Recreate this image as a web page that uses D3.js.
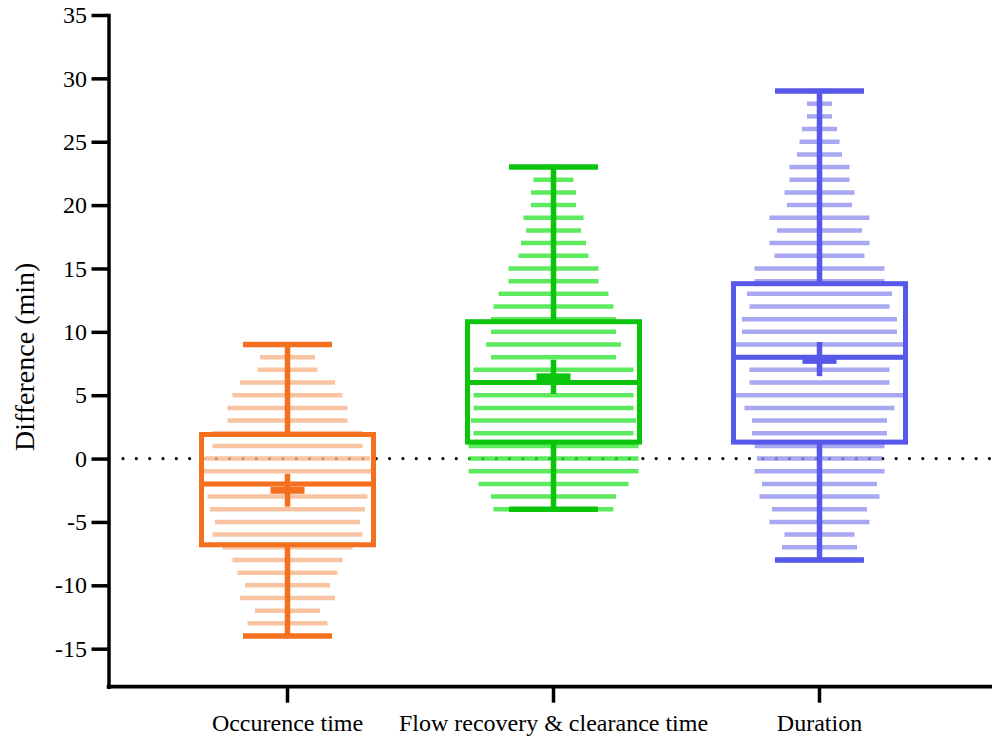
<!DOCTYPE html>
<html>
<head>
<meta charset="utf-8">
<script src="https://cdn.jsdelivr.net/npm/d3@7"></script>
<style>
  html, body { margin: 0; padding: 0; background: #fff; }
</style>
</head>
<body>
<svg id="chart" width="992" height="738"></svg>
<script>
// Groups shown along the x axis
const categories = ["Occurence time", "Flow recovery & clearance time", "Duration"];

// Frequency of each whole-minute difference, per group
const occurenceLevels = [-14, -13, -12, -11, -10, -9, -8, -7, -6, -5, -4, -3, -2, -1, 0, 1, 2, 3, 4, 5, 6, 7, 8, 9];
const occurenceCounts = [16, 16, 13, 19, 17, 20, 22, 26, 30, 29, 31, 32, 33, 34, 33, 30, 30, 24, 24, 22, 19, 12, 11, 10];

const recoveryLevels = [-4, -3, -2, -1, 0, 1, 2, 3, 4, 5, 6, 7, 8, 9, 10, 11, 12, 13, 14, 15, 16, 17, 18, 19, 20, 21, 22, 23];
const recoveryCounts = [24, 25, 30, 34, 34, 34, 32, 33, 32, 32, 32, 32, 25, 27, 25, 25, 24, 22, 18, 18, 14, 13, 11, 12, 9, 9, 8, 4];

const durationLevels = [-8, -7, -6, -5, -4, -3, -2, -1, 0, 1, 2, 3, 4, 5, 6, 7, 8, 9, 10, 11, 12, 13, 14, 15, 16, 17, 18, 19, 20, 21, 22, 23, 24, 25, 26, 27, 28, 29];
const durationCounts = [16, 15, 14, 20, 19, 24, 23, 26, 25, 26, 27, 27, 30, 35, 28, 28, 33, 34, 31, 31, 28, 29, 26, 26, 18, 20, 17, 20, 13, 14, 12, 12, 9, 8, 7, 5, 5, 4];

// Box-and-whisker summaries (min, quartiles, max) and mean with its error bar
const minimums = [-14, -4, -8];
const lowerQuartiles = [-6.8, 1.3, 1.3];
const medians = [-2, 6, 8];
const upperQuartiles = [1.9, 10.8, 13.8];
const maximums = [9, 23, 29];
const means = [-2.5, 6.45, 7.75];
const meanLows = [-3.8, 5.1, 6.5];
const meanHighs = [-1.2, 7.8, 9.2];

// Axis ticks
const yTicks = [-15, -10, -5, 0, 5, 10, 15, 20, 25, 30, 35];
const yDomain = [-18, 35];
const referenceValue = 0;

// Styling
const strongColors = ["#F4701E", "#0DC40D", "#5757E9"];
const lightColors = ["#F8B58B", "#36E536", "#9292EF"];

const svg = d3.select("#chart");
const width = 992, height = 738;
const axisX = 108.5, axisBottom = 686.7, axisTop = 15;

const y = d3.scaleLinear().domain(yDomain).range([axisBottom, axisTop]);
const x = d3.scaleBand().domain(categories).range([154.5, 952.5]);
const cx = c => x(c) + x.bandwidth() / 2;
const spread = d3.scaleLinear().domain([0, 1]).range([0, 5]); // px per observation

const groups = categories.map((c, i) => ({
  name: c,
  color: strongColors[i],
  light: lightColors[i],
  levels: [occurenceLevels, recoveryLevels, durationLevels][i],
  counts: [occurenceCounts, recoveryCounts, durationCounts][i],
  min: minimums[i], q1: lowerQuartiles[i], med: medians[i], q3: upperQuartiles[i], max: maximums[i],
  mean: means[i], meanLo: meanLows[i], meanHi: meanHighs[i]
}));

// Dotted reference line at zero
svg.append("line")
  .attr("x1", 123).attr("x2", width)
  .attr("y1", y(referenceValue)).attr("y2", y(referenceValue))
  .attr("stroke", "#000").attr("stroke-width", 3.2)
  .attr("stroke-linecap", "round")
  .attr("stroke-dasharray", "0 13.33");

// Distribution strokes: one horizontal line per minute level
const dist = svg.append("g");
groups.forEach(g => {
  const pts = g.levels.map((v, k) => ({ v, n: g.counts[k] }));
  dist.append("g").selectAll("line").data(pts).join("line")
    .attr("x1", d => cx(g.name) - spread(d.n) / 2)
    .attr("x2", d => cx(g.name) + spread(d.n) / 2)
    .attr("y1", d => y(d.v)).attr("y2", d => y(d.v))
    .attr("stroke", g.light).attr("stroke-opacity", 0.8)
    .attr("stroke-width", 4.5);
});

// Boxes, whiskers, medians and mean markers
const boxW = 172, capW = 89;
groups.forEach(g => {
  const c = cx(g.name);
  const gg = svg.append("g").attr("stroke", g.color).attr("fill", "none");
  // whiskers
  gg.append("line").attr("x1", c).attr("x2", c).attr("y1", y(g.max)).attr("y2", y(g.q3)).attr("stroke-width", 5.5);
  gg.append("line").attr("x1", c).attr("x2", c).attr("y1", y(g.q1)).attr("y2", y(g.min)).attr("stroke-width", 5.5);
  // caps
  [g.max, g.min].forEach(v => {
    gg.append("line").attr("x1", c - capW / 2).attr("x2", c + capW / 2)
      .attr("y1", y(v)).attr("y2", y(v)).attr("stroke-width", 5.5);
  });
  // box
  gg.append("rect").attr("x", c - boxW / 2).attr("width", boxW)
    .attr("y", y(g.q3)).attr("height", y(g.q1) - y(g.q3))
    .attr("stroke-width", 5);
  // median
  gg.append("line").attr("x1", c - boxW / 2).attr("x2", c + boxW / 2)
    .attr("y1", y(g.med)).attr("y2", y(g.med)).attr("stroke-width", 5);
  // mean with error bar
  gg.append("line").attr("x1", c).attr("x2", c)
    .attr("y1", y(g.meanHi)).attr("y2", y(g.meanLo)).attr("stroke-width", 5.5);
  gg.append("rect").attr("x", c - 17).attr("width", 34)
    .attr("y", y(g.mean) - 3.5).attr("height", 7)
    .attr("fill", g.color).attr("stroke", "none");
});

// Y axis
const yAxis = svg.append("g")
  .attr("transform", `translate(${axisX},0)`)
  .call(d3.axisLeft(y).tickValues(yTicks).tickFormat(d => String(d))
    .tickSize(17).tickPadding(4.5).tickSizeOuter(0));
yAxis.attr("font-family", null).attr("font-size", 24);
yAxis.select(".domain").attr("stroke-width", 3.5).attr("stroke-linecap", "square");
yAxis.selectAll(".tick line").attr("stroke-width", 3.5);
yAxis.selectAll(".tick text").attr("font-size", 24).attr("fill", "#000");

// X axis
const xAxis = svg.append("g")
  .attr("transform", `translate(0,${axisBottom})`)
  .call(d3.axisBottom(x).tickSize(16).tickPadding(11.3).tickSizeOuter(0));
xAxis.attr("font-family", null).attr("font-size", 24);
xAxis.select(".domain").remove();
xAxis.insert("line", ":first-child")
  .attr("x1", axisX - 1.75).attr("x2", width).attr("y1", 0).attr("y2", 0)
  .attr("stroke", "#000").attr("stroke-width", 3.8);
xAxis.selectAll(".tick line").attr("stroke-width", 3.5);
xAxis.selectAll(".tick text").attr("font-size", 24).attr("fill", "#000");

// Y axis title
svg.append("text")
  .attr("transform", `translate(34,${(y(35) + y(-18)) / 2 + 6}) rotate(-90)`)
  .attr("text-anchor", "middle")
  .attr("font-size", 28).attr("fill", "#000")
  .text("Difference (min)");
</script>
</body>
</html>
